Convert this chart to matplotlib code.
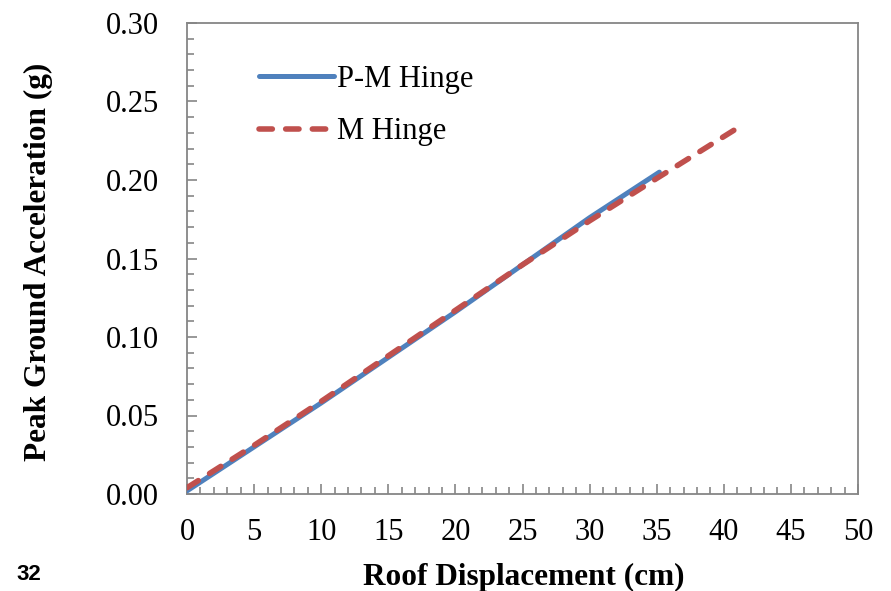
import matplotlib
matplotlib.use("Agg")
import matplotlib.pyplot as plt
from matplotlib.ticker import MultipleLocator, FormatStrFormatter

# Pushover-type response: peak ground acceleration vs roof displacement
pm_disp = [0, 5, 10, 15, 20, 25, 30, 35.2]
pm_pga = [0.002, 0.030, 0.058, 0.087, 0.116, 0.146, 0.176, 0.205]

m_disp = [0, 5, 10, 15, 20, 25, 30, 35, 41]
m_pga = [0.004, 0.031, 0.059, 0.088, 0.117, 0.146, 0.174, 0.201, 0.233]

series_labels = ["P-M Hinge", "M Hinge"]
x_label = "Roof Displacement (cm)"
y_label = "Peak Ground Acceleration (g)"
page_number = "32"

serif = ["Liberation Serif", "DejaVu Serif"]
spine_color = "#868686"
W, H = 891, 591

fig = plt.figure(figsize=(W / 100, H / 100), dpi=100)
ax = fig.add_axes([187 / W, 1 - 494 / H, (858 - 187) / W, (494 - 23) / H])

ax.plot(pm_disp, pm_pga, color="#4F81BD", lw=3.6, solid_capstyle="round",
        label=series_labels[0], zorder=3)
ax.plot(m_disp, m_pga, color="#C0504D", lw=4.0, dash_capstyle="round",
        dashes=[2.4, 2.4], label=series_labels[1], zorder=4)

ax.set_xlim(0, 50)
ax.set_ylim(0, 0.30)
ax.xaxis.set_major_locator(MultipleLocator(5))
ax.xaxis.set_minor_locator(MultipleLocator(1))
ax.yaxis.set_major_locator(MultipleLocator(0.05))
ax.yaxis.set_minor_locator(MultipleLocator(0.01))
ax.yaxis.set_major_formatter(FormatStrFormatter("%.2f"))

for s in ax.spines.values():
    s.set_color(spine_color)
    s.set_linewidth(1.3)

ax.tick_params(which="both", direction="in", color=spine_color, width=1.2,
               labelsize=22, labelcolor="black")
ax.tick_params(which="major", length=7)
ax.tick_params(which="minor", length=5)
ax.tick_params(axis="x", which="major", pad=17)
ax.tick_params(axis="y", which="major", pad=20)
for lab in ax.get_xticklabels() + ax.get_yticklabels():
    lab.set_fontfamily(serif)

# axis titles placed in figure pixels
fig.text(524 / W, 1 - 585 / H, x_label, ha="center", va="baseline",
         fontsize=22.5, fontweight="bold", family=serif)
fig.text(38 / W, 1 - 262 / H, y_label, ha="center", va="center", rotation=90,
         fontsize=22.5, fontweight="bold", family=serif)

leg = ax.legend(loc="upper left", bbox_to_anchor=(0.075, 0.957), frameon=False,
                prop={"family": serif, "size": 22}, handlelength=2.45,
                handletextpad=0.12, labelspacing=0.78, borderpad=0.2)

fig.text(29 / W, 1 - 575 / H, page_number, ha="center", va="center",
         fontsize=16, fontweight="bold", family=["Liberation Sans", "DejaVu Sans"])

fig.savefig("out.png", dpi=100)
